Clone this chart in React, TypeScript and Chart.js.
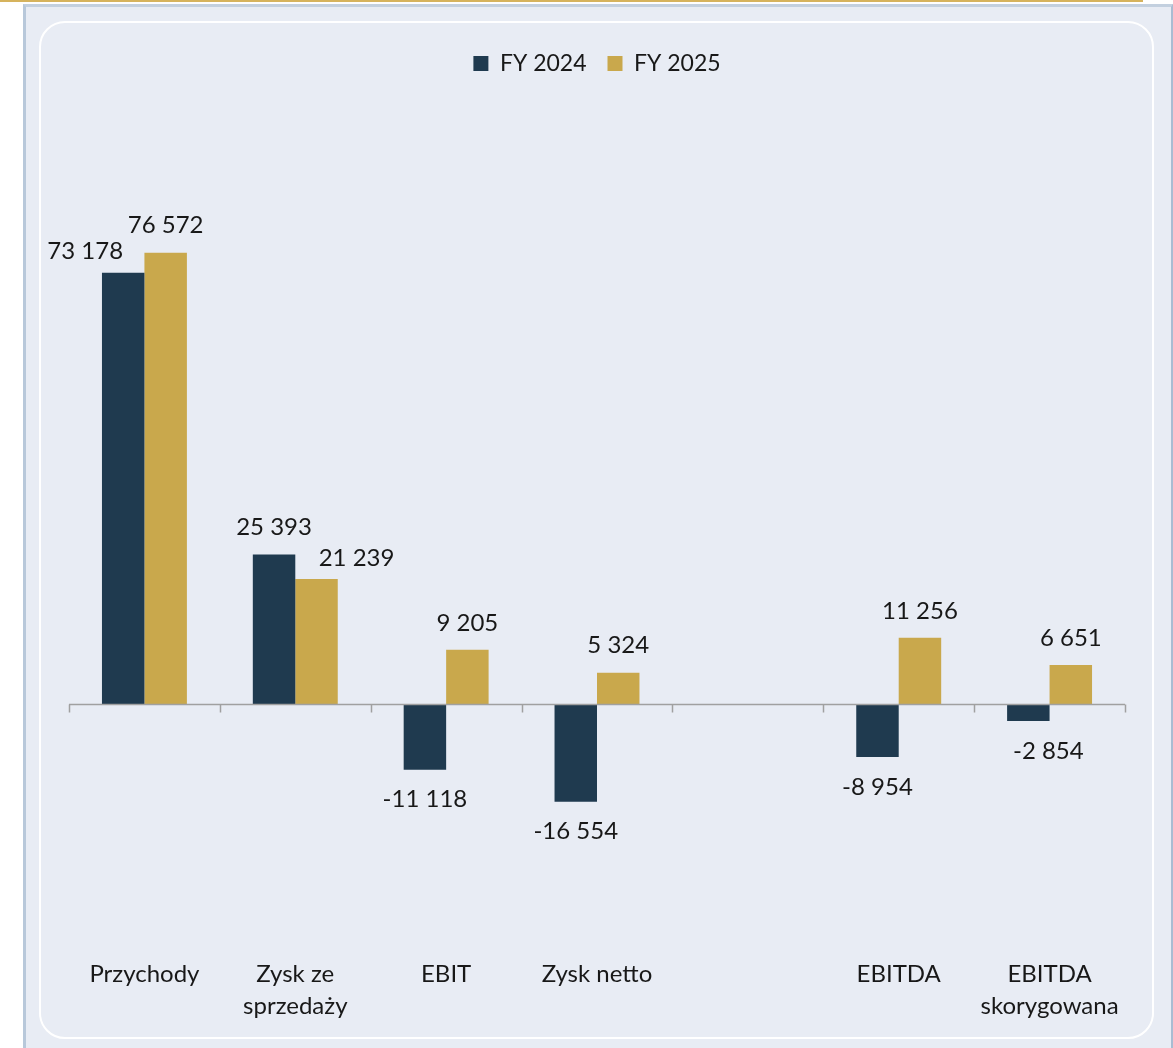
import React, { useEffect, useRef } from "react";
import { Chart, registerables } from "chart.js";

Chart.register(...registerables);

const categories: (string | string[])[] = [
  "Przychody",
  ["Zysk ze", "sprzedaży"],
  "EBIT",
  "Zysk netto",
  "",
  "EBITDA",
  ["EBITDA", "skorygowana"],
];
const fy2024: (number | null)[] = [73178, 25393, -11118, -16554, null, -8954, -2854];
const fy2025: (number | null)[] = [76572, 21239, 9205, 5324, null, 11256, 6651];
const seriesNames = ["FY 2024", "FY 2025"];

const COLORS = ["#1F3A4F", "#C9A84C"];
const FONT = "Lato";
const TEXT = "#181818";

// manual label nudges (dataset index, point index) -> [dx, dy]
const labelNudges: Record<string, [number, number]> = {
  "0-0": [-38, 6],
  "1-1": [40, 6],
  "0-6": [20, 0],
};

const fmt = (v: number) => {
  const s = Math.abs(v).toString().replace(/\B(?=(\d{3})+(?!\d))/g, " ");
  return (v < 0 ? "-" : "") + s;
};

const valueLabels = {
  id: "valueLabels",
  afterDatasetsDraw(chart: any) {
    const ctx = chart.ctx;
    ctx.save();
    ctx.font = `24px ${FONT}`;
    ctx.fillStyle = TEXT;
    ctx.textAlign = "center";
    ctx.textBaseline = "middle";
    chart.data.datasets.forEach((ds: any, di: number) => {
      const meta = chart.getDatasetMeta(di);
      meta.data.forEach((bar: any, i: number) => {
        const v = ds.data[i];
        if (v === null || v === undefined) return;
        const nudge = labelNudges[`${di}-${i}`] || [0, 0];
        const y = v >= 0 ? bar.y - 27 : bar.y + 30;
        ctx.fillText(fmt(v), bar.x + nudge[0], y + nudge[1]);
      });
    });
    ctx.restore();
  },
};

const zeroAxis = {
  id: "zeroAxis",
  afterDatasetsDraw(chart: any) {
    const { ctx, chartArea, scales } = chart;
    const y0 = Math.round(scales.y.getPixelForValue(0)) + 0.5;
    const n = chart.data.labels.length;
    const step = (chartArea.right - chartArea.left) / n;
    ctx.save();
    ctx.strokeStyle = "#A0A0A0";
    ctx.lineWidth = 1.5;
    ctx.beginPath();
    ctx.moveTo(chartArea.left, y0);
    ctx.lineTo(chartArea.right, y0);
    for (let i = 0; i <= n; i++) {
      const x = Math.round(chartArea.left + i * step) + 0.5;
      ctx.moveTo(x, y0);
      ctx.lineTo(x, y0 + 8);
    }
    ctx.stroke();
    ctx.restore();
  },
};

export default function App() {
  const ref = useRef<HTMLCanvasElement | null>(null);
  useEffect(() => {
    if (!ref.current) return;
    const chart = new Chart(ref.current, {
      type: "bar",
      data: {
        labels: categories,
        datasets: [
          { label: seriesNames[0], data: fy2024, backgroundColor: COLORS[0] },
          { label: seriesNames[1], data: fy2025, backgroundColor: COLORS[1] },
        ],
      },
      options: {
        responsive: false,
        animation: false,
        devicePixelRatio: 1,
        layout: { padding: { top: 31, bottom: 8, left: 69, right: 48 } },
        datasets: { bar: { categoryPercentage: 0.563, barPercentage: 1 } },
        plugins: {
          legend: {
            position: "top",
            labels: {
              boxWidth: 15,
              boxHeight: 15,
              padding: 21,
              color: TEXT,
              font: { family: FONT, size: 23 },
            },
          },
          tooltip: { enabled: false },
        },
        scales: {
          x: {
            grid: { display: false, drawTicks: false },
            border: { display: false },
            ticks: {
              color: TEXT,
              padding: 18,
              maxRotation: 0,
              autoSkip: false,
              font: { family: FONT, size: 24, lineHeight: 32 / 24 },
            },
          },
          y: {
            display: false,
            min: -40000,
            max: 105000,
          },
        },
      },
      plugins: [zeroAxis, valueLabels],
    });
    return () => chart.destroy();
  }, []);

  return (
    <div style={{ position: "absolute", left: 0, top: 0, width: 1173, height: 1048, overflow: "hidden", background: "#FFFFFF" }}>
      <div style={{ position: "absolute", left: 0, top: 0, width: 1143, height: 2, background: "#D6B35D" }} />
      <div
        style={{
          position: "absolute",
          left: 23,
          top: 4,
          width: 1150,
          height: 1060,
          boxSizing: "border-box",
          borderLeft: "3px solid #B8C8DA",
          borderTop: "3px solid #C3D0DF",
          borderRight: "2px solid #A9BCD2",
          background: "#E8ECF4",
        }}
      />
      <div
        style={{
          position: "absolute",
          left: 39,
          top: 21,
          width: 1115,
          height: 1018,
          boxSizing: "border-box",
          border: "2px solid #FFFFFF",
          borderRadius: 26,
        }}
      />
      <canvas ref={ref} width={1173} height={1048} style={{ position: "absolute", left: 0, top: 0 }} />
    </div>
  );
}
